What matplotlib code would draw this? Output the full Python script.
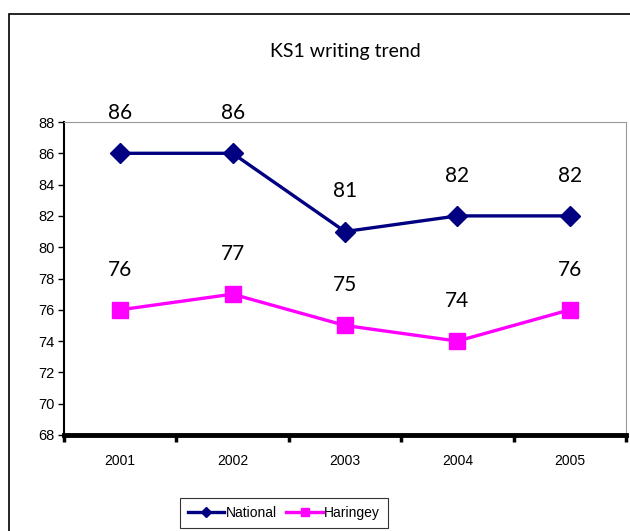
import matplotlib.pyplot as plt
from matplotlib.patches import Rectangle
import numpy as np

years = ["2001", "2002", "2003", "2004", "2005"]
national = [86, 86, 81, 82, 82]
haringey = [76, 77, 75, 74, 76]

fig = plt.figure(figsize=(6.3, 5.31), dpi=100)
fig.patch.set_facecolor("white")

# outer chart border (runs off right and bottom like the original)
fig.patches.append(Rectangle((9 / 630, -0.05), 1.0, 1 - 14 / 531 + 0.05,
                             transform=fig.transFigure, fill=False,
                             edgecolor="black", lw=1.2))

ax = fig.add_axes([64 / 630, 1 - 435 / 531, (626 - 64) / 630, (435 - 122) / 531])
x = np.arange(len(years))

ax.plot(x, national, color="#000080", lw=2.4, marker="D", ms=10,
        label="National", zorder=3)
ax.plot(x, haringey, color="#FF00FF", lw=2.4, marker="s", ms=11,
        label="Haringey", zorder=3)

for xi, v in zip(x, national):
    ax.annotate(str(v), (xi, v), xytext=(0, 29), textcoords="offset points",
                ha="center", va="center", fontsize=15, family="Lato")
for xi, v in zip(x, haringey):
    ax.annotate(str(v), (xi, v), xytext=(0, 29), textcoords="offset points",
                ha="center", va="center", fontsize=15, family="Lato")

ax.set_xlim(-0.5, 4.5)
ax.set_ylim(68, 88)
ax.set_yticks(range(68, 89, 2))
ax.set_xticks(x)
ax.set_xticklabels(years, family="Liberation Sans", fontsize=10)
ax.set_xticks(np.arange(-0.5, 5, 1), minor=True)
ax.tick_params(axis="x", which="major", length=0, pad=14)
ax.tick_params(axis="x", which="minor", length=5, width=2.5, direction="out")
ax.tick_params(axis="y", length=4, width=1, direction="out", pad=3)
for lab in ax.get_yticklabels():
    lab.set_family("Liberation Sans")
    lab.set_fontsize(10.5)

ax.spines["top"].set_color("#999999")
ax.spines["right"].set_color("#999999")
ax.spines["left"].set_linewidth(1.5)
ax.spines["bottom"].set_linewidth(3.5)

fig.text(345 / 630, 1 - 51 / 531, "KS1 writing trend", ha="center", va="center",
         fontsize=14, family="Lato")

leg = fig.legend(loc="center", bbox_to_anchor=(284 / 630, 1 - 513 / 531), ncol=2,
                 frameon=True, fancybox=False, edgecolor="black",
                 prop={"family": "Liberation Sans", "size": 10},
                 handlelength=2.6, handletextpad=0.1, columnspacing=0.7,
                 borderpad=0.6, markerscale=0.5)
leg.get_frame().set_linewidth(0.8)

fig.savefig("out.png", dpi=100)
